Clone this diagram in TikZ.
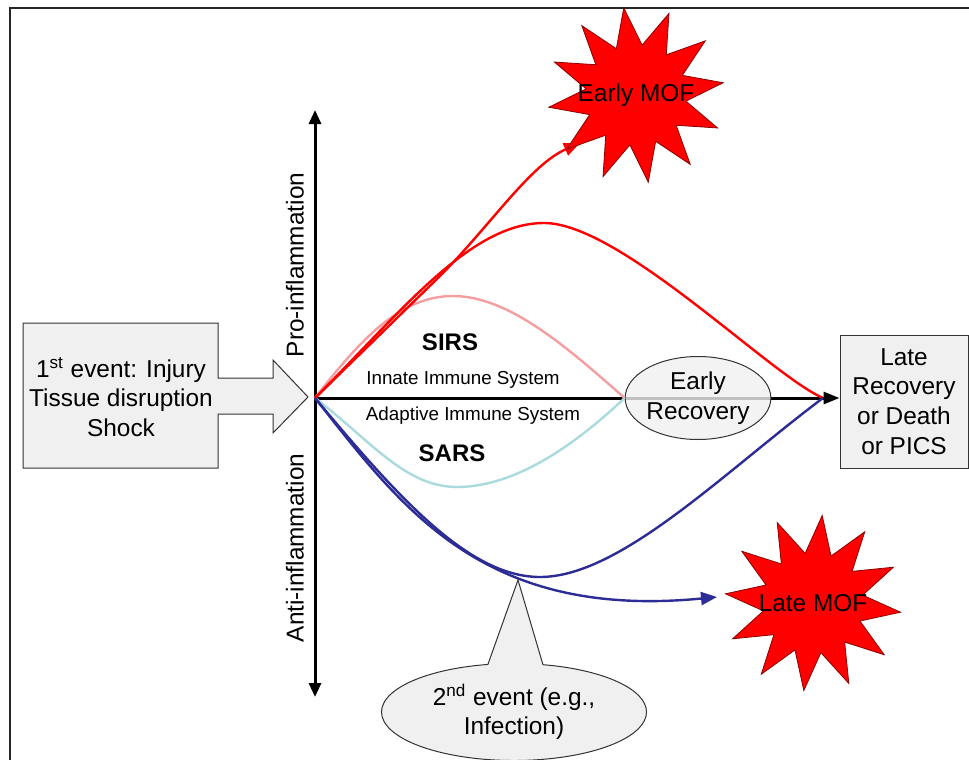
\documentclass[tikz,border=0pt]{standalone}
\usepackage{fontspec}
\setmainfont{Liberation Sans}
\usetikzlibrary{shapes.geometric,shapes.callouts,arrows.meta}
\definecolor{mofred}{RGB}{255,0,0}
\definecolor{sirspink}{RGB}{245,158,160}
\definecolor{sarscyan}{RGB}{170,218,222}
\definecolor{antiblue}{RGB}{44,44,150}
\definecolor{boxgray}{RGB}{240,240,240}

\begin{document}
\begin{tikzpicture}[x=0.5pt, y=-0.5pt, font=\fontsize{12.2}{14.8}\selectfont,
  axisline/.style={line width=1.5pt},
  tip/.style={-{Triangle[length=8pt,width=6.5pt]}},
  curve/.style={line width=1.2pt},
  mofstar/.style={star, star points=12, star point ratio=1.75, fill=mofred, draw=red!55!black, line width=0.4pt, minimum size=88pt, inner sep=0pt},
  graybox/.style={draw=black!80, fill=boxgray, line width=0.5pt, align=center, inner sep=0pt}]
\useasboundingbox (0,0) rectangle (969,760);
\draw[black!85, line width=0.8pt] (10,780) |- (990,8);

\coordinate (o) at (315,398);
\coordinate (top) at (315,110);
\coordinate (bot) at (315,697);
\coordinate (fin) at (823,398);
\coordinate (earlyhit) at (580,143);
\coordinate (latehit) at (717,597);
\coordinate (hit2) at (518,580);

\filldraw[fill=boxgray, draw=black!80, line width=0.5pt] (23,323) -- (218,323) -- (218,378) -- (273,378) -- (273,360) -- (308,397) -- (273,433) -- (273,414) -- (218,414) -- (218,468) -- (23,468) -- cycle;
\node[align=center] (first) at (121,397) {1\textsuperscript{st} event: Injury\\Tissue disruption\\Shock};

\node[graybox, minimum width=64pt, minimum height=66.5pt] (late) at (904,401.5) {Late\\Recovery\\or Death\\or PICS};

\draw[axisline, {Triangle[length=7pt,width=6pt]}-{Triangle[length=7pt,width=6pt]}] (bot) -- (top);
\draw[axisline, -{Triangle[length=8pt,width=6pt]}] (o) -- (o -| late.west);

\node[rotate=90] (pro) at (295,265) {Pro-inflammation};
\node[rotate=90] (anti) at (295,548) {Anti-inflammation};

\node[ellipse, graybox, fill opacity=0.8, text opacity=1, minimum width=71pt, minimum height=41.5pt] (early) at (698,398) {Early\\Recovery};

\draw[curve, sirspink] (o) .. controls (360,340) and (400,296) .. (453,296) .. controls (510,296) and (570,350) .. (early.west);
\draw[curve, sarscyan] (o) .. controls (370,440) and (405,487) .. (457,487) .. controls (515,487) and (575,445) .. (early.west);
\draw[curve, mofred] (o) .. controls (400,313) and (470,223) .. (544,223) .. controls (620,223) and (770,375) .. (fin);
\draw[curve, mofred, tip] (o) -- (440,276) .. controls (490,226) and (530,165) .. (earlyhit);
\draw[curve, antiblue] (o) .. controls (400,500) and (470,577) .. (540,577) .. controls (620,577) and (723,473) .. (fin);
\draw[curve, antiblue, tip] (o) .. controls (400,505) and (480,620) .. (latehit);

\node[font=\fontsize{12}{14}\selectfont\bfseries] (sirs) at (450,342) {SIRS};
\node[font=\fontsize{9.4}{11}\selectfont] (innate) at (463,380) {Innate Immune System};
\node[font=\fontsize{9.4}{11}\selectfont] (adaptive) at (473,416) {Adaptive Immune System};
\node[font=\fontsize{12}{14}\selectfont\bfseries] (sars) at (452,453) {SARS};

\node[mofstar, shape border rotate=8] (earlymof) at (636,95) {\makebox[0pt]{Early MOF}};
\node[mofstar, shape border rotate=-6] (latemof) at (813,603) {\makebox[0pt]{Late MOF}};

\node[ellipse callout, graybox, callout absolute pointer=(hit2), callout pointer arc=24, minimum width=132.5pt, minimum height=48.5pt] (second) at (514,712) {2\textsuperscript{nd} event (e.g.,\\Infection)};
\end{tikzpicture}
\end{document}
